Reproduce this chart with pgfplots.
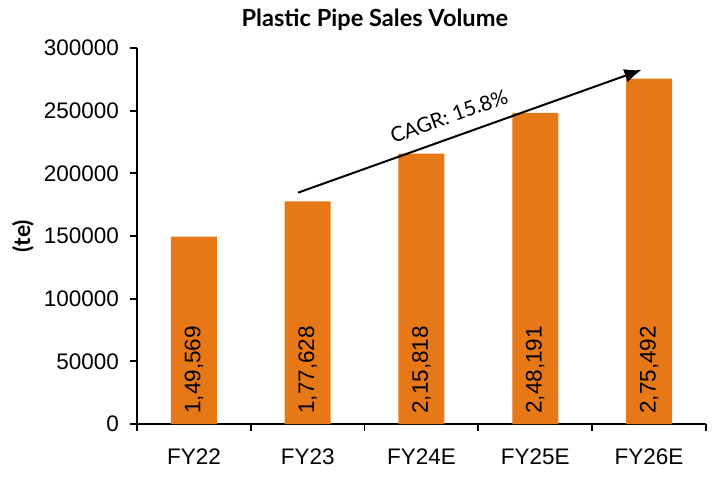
\documentclass[border=0pt]{standalone}
\usepackage{pgfplots}
\pgfplotsset{compat=1.18}
\usepackage{pgfplotstable}
\usepackage{fontspec}
\setmainfont{Liberation Sans}
\newfontfamily\lato{Lato}
\usetikzlibrary{arrows.meta}
\definecolor{barorange}{RGB}{230,120,23}

% Plastic pipe sales volume (tonnes) per fiscal year
\pgfplotstableread{
x y lbl
0 149569 1,49,569
1 177628 1,77,628
2 215818 2,15,818
3 248191 2,48,191
4 275492 2,75,492
}\salesdata

\begin{document}
\begin{tikzpicture}
\path[use as bounding box] (-68.5bp,-30.5bp) rectangle (288bp,212bp);
\begin{axis}[
  scale only axis, width=284.5bp, height=188bp,
  at={(0,0)}, anchor=south west,
  clip=false,
  xmin=-0.5, xmax=4.5, ymin=0, ymax=300000,
  ybar, bar width=23bp,
  axis lines*=left,
  axis line style={line width=0.9bp, black},
  tick align=outside,
  major tick length=3.5bp,
  tick style={line width=0.9bp, black},
  xtick={-0.5,0.5,...,4.5},
  x tick label as interval,
  xticklabels={FY22,FY23,FY24E,FY25E,FY26E},
  xticklabel style={yshift=-5.5bp},
  ytick={0,50000,...,300000},
  scaled y ticks=false,
  yticklabel style={xshift=-2bp, /pgf/number format/.cd, fixed, set thousands separator={}, assume math mode=true},
  ticklabel style={font=\fontsize{11.25bp}{13bp}\selectfont},
  title={Plastic Pipe Sales Volume},
  title style={at={(0.418,1)}, anchor=base, yshift=5bp, font=\lato\bfseries\fontsize{11.8bp}{14bp}\selectfont},
  ylabel={(te)},
  ylabel style={at={(axis description cs:-0.2004,0.5)}, anchor=center, font=\lato\bfseries\fontsize{11.5bp}{13bp}\selectfont},
]
\addplot[fill=barorange, draw=none,
  nodes near coords, point meta=explicit symbolic,
  visualization depends on={rawy \as \rawy},
  every node near coord/.append style={shift={(axis direction cs:0,-\rawy)}, rotate=90, anchor=west,
    font=\fontsize{11.25bp}{13bp}\selectfont, text=black, inner xsep=5bp}]
  table[x=x, y=y, meta=lbl]{\salesdata};
\draw[line width=1bp, -{Latex[length=8.5bp, width=7bp]}]
  (axis cs:0.916,184600) -- node[pos=0.46, sloped, above=3bp, font=\lato\fontsize{10.3bp}{12bp}\selectfont]{CAGR: 15.8\%}
  (axis cs:3.933,282500);
\end{axis}
\end{tikzpicture}
\end{document}
